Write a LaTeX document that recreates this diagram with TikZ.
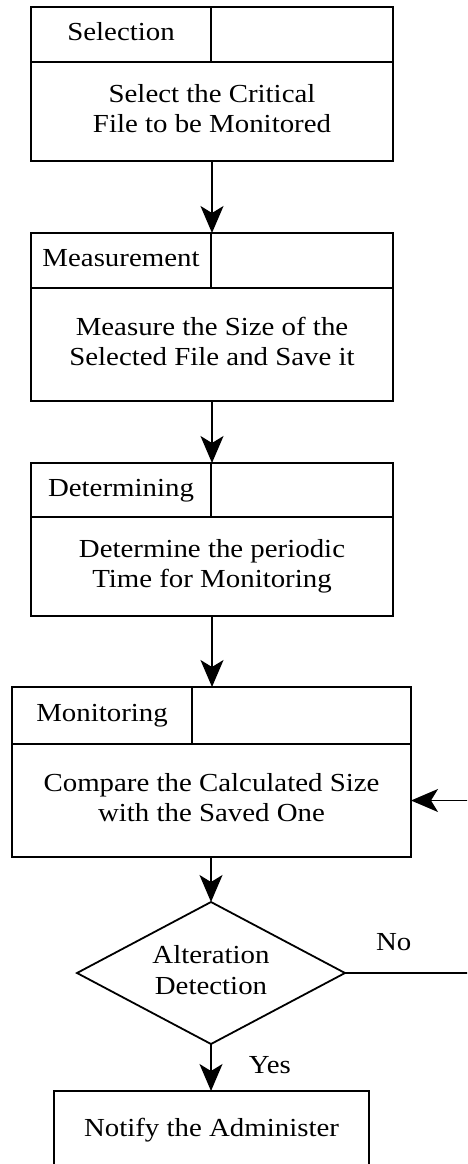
\documentclass[tikz,border=0pt]{standalone}
\usepackage{fontspec}
\setmainfont{Liberation Serif}
\usepackage{graphicx}
\usetikzlibrary{arrows.meta,shapes.geometric}

% slightly widened, centred multi-line text
\newcommand\widetext[1]{\scalebox{1.11}[1]{\begin{tabular}{@{}c@{}}#1\end{tabular}}}

\tikzset{
  txt/.style={font=\fontsize{26}{30.5}\selectfont},
  cell/.style={txt, draw, line width=2pt, anchor=north west, inner sep=0pt, outer sep=0pt},
  flow/.style={draw, line width=1.6pt, -{Stealth[length=27pt,width=23pt,inset=7pt]}},
  decision/.style={txt, draw, diamond, line width=1.8pt, aspect=1.89, inner sep=0pt, outer sep=0pt,
                   minimum width=268pt, minimum height=142pt},
  lbl/.style={txt, inner sep=0pt}
}

\begin{document}
\begin{tikzpicture}[x=1pt,y=-1pt]
\useasboundingbox (0,0) rectangle (467,1164);
\clip (0,0) rectangle (467,1164);

% Stage 1: selection
\node[cell, minimum width=180pt, minimum height=55pt] (h1) at (31,7) {\widetext{Selection}};
\node[cell, minimum width=182pt, minimum height=55pt] (h1r) at (h1.north east) {};
\node[cell, minimum width=362pt, minimum height=99pt] (b1) at (h1.south west)
  {\widetext{Select the Critical\\File to be Monitored}};

% Stage 2: measurement
\node[cell, minimum width=180pt, minimum height=55pt] (h2) at (31,233) {\widetext{Measurement}};
\node[cell, minimum width=182pt, minimum height=55pt] (h2r) at (h2.north east) {};
\node[cell, minimum width=362pt, minimum height=113pt] (b2) at (h2.south west)
  {\widetext{Measure the Size of the\\Selected File and Save it}};

% Stage 3: determining
\node[cell, minimum width=180pt, minimum height=54pt] (h3) at (31,463) {\widetext{Determining}};
\node[cell, minimum width=182pt, minimum height=54pt] (h3r) at (h3.north east) {};
\node[cell, minimum width=362pt, minimum height=99pt] (b3) at (h3.south west)
  {\widetext{Determine the periodic\\Time for Monitoring}};

% Stage 4: monitoring
\node[cell, minimum width=180pt, minimum height=57pt] (h4) at (12,687) {\widetext{Monitoring}};
\node[cell, minimum width=219pt, minimum height=57pt] (h4r) at (h4.north east) {};
\node[cell, minimum width=399pt, minimum height=113pt] (b4) at (h4.south west)
  {\widetext{Compare the Calculated Size\\with the Saved One}};

% Decision and final action
\node[decision] (dia) at (211,973) {\widetext{Alteration\\Detection}};
\node[cell, minimum width=315pt, minimum height=78pt] (fin) at (54,1091)
  {\widetext{Notify the Administer}};

% Connectors
\draw[flow] (b1.south) -- (b1.south |- h2.north);
\draw[flow] (b2.south) -- (b2.south |- h3.north);
\draw[flow] (b3.south) -- (b3.south |- h4.north);
\draw[flow] (b4.south -| dia.north) -- (dia.north);
\draw[flow] (dia.south) -- (dia.south |- fin.north)
  node[midway, lbl, anchor=west, xshift=37pt] {\widetext{Yes}};

% Loop back when no alteration is found
\coordinate (loop) at (484,973);
\draw[flow] (dia.east) -- (loop) node[pos=0.35, lbl, anchor=south, yshift=13pt] {\widetext{No}}
  |- (b4.east);
\end{tikzpicture}
\end{document}
